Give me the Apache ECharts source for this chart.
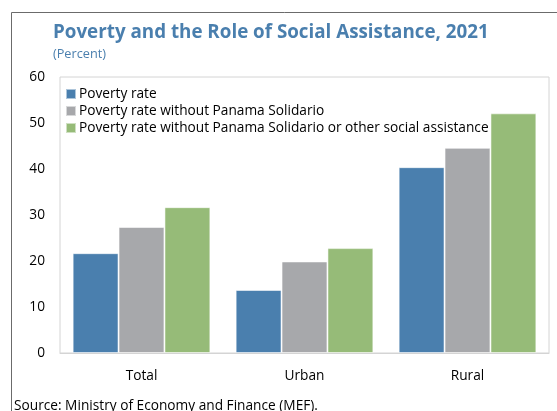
<!DOCTYPE html>
<html>
<head>
<meta charset="utf-8">
<script src="https://cdn.jsdelivr.net/npm/echarts@6/dist/echarts.min.js"></script>
<style>
  html, body { margin: 0; padding: 0; background: #fff; }
  #chart { width: 557px; height: 411px; }
</style>
</head>
<body>
<div id="chart"></div>
<script>
// Poverty rates by area, 2021 (percent)
const categories = ['Total', 'Urban', 'Rural'];
const seriesNames = [
  'Poverty rate',
  'Poverty rate without Panama Solidario',
  'Poverty rate without Panama Solidario or other social assistance'
];
const povertyRate = [21.7, 13.7, 40.4];
const withoutSolidario = [27.4, 19.9, 44.6];
const withoutAllAssistance = [31.7, 22.8, 52.1];
const yTicks = [0, 10, 20, 30, 40, 50, 60];

const colors = ['#4a7fae', '#a7a8ab', '#96bb78'];
const font = '"Open Sans", "Noto Sans", sans-serif';

const chart = echarts.init(document.getElementById('chart'), null, { renderer: 'canvas' });

const values = [povertyRate, withoutSolidario, withoutAllAssistance];

chart.setOption({
  animation: false,
  textStyle: { fontFamily: font },
  title: {
    text: 'Poverty and the Role of Social Assistance, 2021',
    subtext: '(Percent)',
    left: 48,
    top: 18,
    itemGap: 6,
    textStyle: { fontFamily: font, fontSize: 18.8, fontWeight: 'bold', color: '#4a7fae' },
    subtextStyle: { fontFamily: font, fontSize: 12.7, color: '#4a7fae' }
  },
  legend: {
    orient: 'vertical',
    left: 60,
    top: 82,
    itemWidth: 10,
    itemHeight: 10,
    itemGap: 3,
    icon: 'rect',
    data: seriesNames,
    textStyle: { fontFamily: font, fontSize: 13.7, color: '#000', padding: [0, 0, 0, -2] }
  },
  grid: {
    left: 60,
    right: 8,
    top: 77,
    bottom: 58,
    show: true,
    borderColor: '#d4d4d4',
    borderWidth: 1,
    containLabel: false
  },
  xAxis: {
    type: 'category',
    data: categories,
    axisLine: { show: true, lineStyle: { color: '#d4d4d4' } },
    axisTick: { show: false },
    axisLabel: { fontFamily: font, fontSize: 13.7, color: '#000', margin: 16 }
  },
  yAxis: {
    type: 'value',
    min: yTicks[0],
    max: yTicks[yTicks.length - 1],
    interval: 10,
    splitLine: { show: false },
    axisLine: { show: false },
    axisTick: { show: false },
    axisLabel: { fontFamily: font, fontSize: 13.7, color: '#000', margin: 15 }
  },
  graphic: [
    {
      type: 'polyline',
      shape: { points: [[11.5, 411], [11.5, 12.5], [557, 12.5]] },
      style: { stroke: '#6b6b6b', lineWidth: 1, fill: null },
      silent: true
    },
    {
      type: 'text',
      left: 14,
      top: 399,
      style: {
        text: 'Source: Ministry of Economy and Finance (MEF).',
        fontFamily: font,
        fontSize: 13.7,
        fill: '#000'
      }
    }
  ],
  series: seriesNames.map((name, i) => ({
    name: name,
    type: 'bar',
    data: values[i],
    barGap: '0%',
    barCategoryGap: '15.5%',
    itemStyle: { color: colors[i], borderColor: 'rgba(255,255,255,0.55)', borderWidth: 1 }
  }))
});
</script>
</body>
</html>
